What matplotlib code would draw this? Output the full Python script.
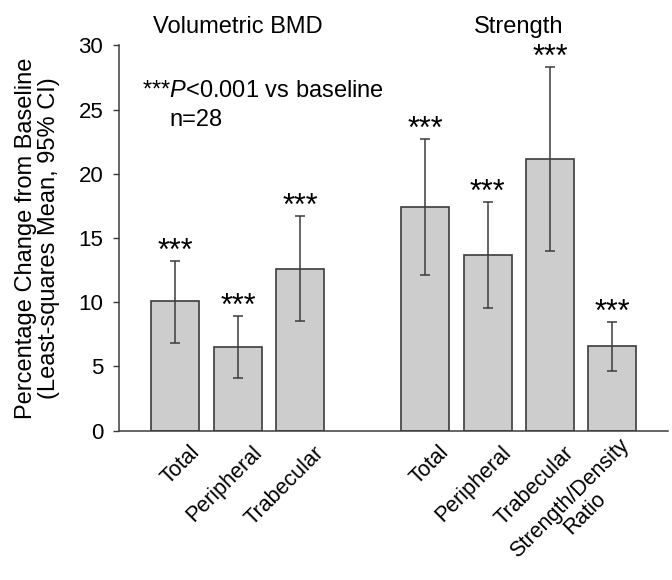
import numpy as np
import matplotlib.pyplot as plt
import matplotlib.transforms as mtransforms

# ── data ──────────────────────────────────────────────────────────────────────
group_titles = ["Volumetric BMD", "Strength"]

bmd_labels = ["Total", "Peripheral", "Trabecular"]
bmd_mean = [10.07, 6.54, 12.60]
bmd_lo = [6.85, 4.12, 8.54]
bmd_hi = [13.23, 8.93, 16.71]

str_labels = ["Total", "Peripheral", "Trabecular", "Strength/Density\nRatio"]
str_mean = [17.45, 13.67, 21.14, 6.57]
str_lo = [12.09, 9.52, 13.96, 4.62]
str_hi = [22.72, 17.82, 28.33, 8.48]

y_ticks = [0, 5, 10, 15, 20, 25, 30]

# ── style ─────────────────────────────────────────────────────────────────────
plt.rcParams.update({
    "font.family": ["Liberation Sans", "DejaVu Sans"],
    "font.size": 17,
    "mathtext.fontset": "custom",
    "mathtext.rm": "Liberation Sans",
    "mathtext.it": "Liberation Sans:italic",
})
edge = "#3c3c3c"
face = "#cdcdcd"

fig = plt.figure(figsize=(6.72, 5.8), dpi=100)
ax = fig.add_axes([0.1775, 0.2574, 0.8165, 0.6645])

x_bmd = np.arange(len(bmd_mean))
x_str = np.arange(len(str_mean)) + len(bmd_mean) + 1
groups = [(x_bmd, bmd_mean, bmd_lo, bmd_hi), (x_str, str_mean, str_lo, str_hi)]

for (xs, mean, lo, hi), title in zip(groups, group_titles):
    mean = np.array(mean)
    yerr = [mean - np.array(lo), np.array(hi) - mean]
    ax.bar(xs, mean, width=0.77, color=face, edgecolor=edge, linewidth=1.2, zorder=2)
    ax.errorbar(xs, mean, yerr=yerr, fmt="none", ecolor=edge, elinewidth=1.1,
                capsize=3.6, capthick=1.1, zorder=3)
    # significance stars above each upper CI
    for x, h in zip(xs, hi):
        ax.annotate("***", xy=(x, h), xytext=(0, 0.5), textcoords="offset points",
                    ha="center", va="baseline", fontsize=22)
    ax.text(xs.mean(), 30.95, title, ha="center", va="baseline", fontsize=17,
            clip_on=False)

ax.text(-0.54, 26.0, r"***$\mathit{P}$<0.001 vs baseline", va="baseline", fontsize=17)
ax.text(-0.09, 23.74, "n=28", va="baseline", fontsize=17)

ax.set_xlim(-0.90, 7.89)
ax.set_ylim(0, 30)
ax.set_yticks(y_ticks)

# rotated category labels, drawn by hand so they can sit right of each bar
x_all = np.concatenate([x_bmd, x_str])
ax.set_xticks(x_all)
ax.set_xticklabels([])
lab_trans = ax.get_xaxis_transform() + mtransforms.ScaledTranslation(
    15 / 72, -13.5 / 72, fig.dpi_scale_trans)
for x, lab in zip(x_all, bmd_labels + str_labels):
    ax.text(x, 0, lab, transform=lab_trans, rotation=45, ha="right", va="center",
            rotation_mode="anchor", multialignment="center", fontsize=15.5,
            linespacing=1.0, clip_on=False)

ax.tick_params(axis="x", length=0)
ax.tick_params(axis="y", length=4.5, width=1, color=edge, pad=7, labelsize=16)
for side in ["top", "right"]:
    ax.spines[side].set_visible(False)
for side in ["left", "bottom"]:
    ax.spines[side].set_color(edge)
    ax.spines[side].set_linewidth(1.1)

ax.set_ylabel("Percentage Change from Baseline\n(Least-squares Mean, 95% CI)",
              fontsize=17, linespacing=1.05)
ax.yaxis.set_label_coords(-0.108, 0.5)

fig.savefig("out.png", dpi=100)
